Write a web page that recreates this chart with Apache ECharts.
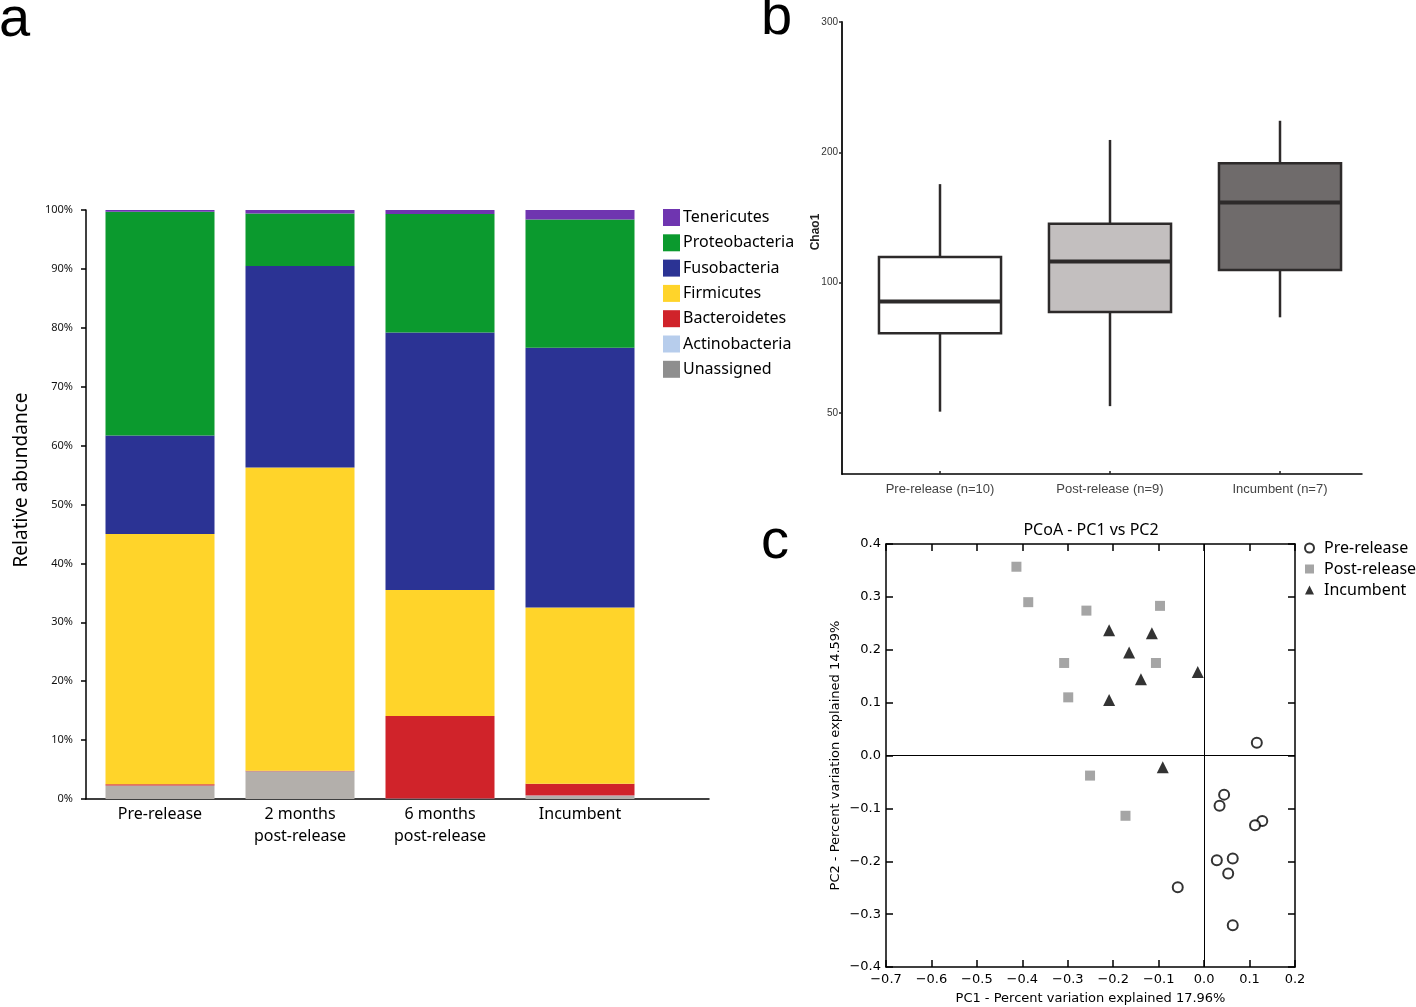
<!DOCTYPE html>
<html><head><meta charset="utf-8">
<script src="https://cdn.jsdelivr.net/npm/echarts@6/dist/echarts.min.js"></script>
<style>html,body{margin:0;padding:0;background:#fff}#main{width:1416px;height:1007px}</style>
</head><body><div id="main"></div>
<script>
// ---------- Panel a: relative abundance (%) ----------
const groups = ['Pre-release', '2 months\npost-release', '6 months\npost-release', 'Incumbent'];
const unassigned     = [2.3, 4.7, 0.0, 0.5];
const actinobacteria = [0.0, 0.0, 0.1, 0.1];
const bacteroidetes  = [0.2, 0.1, 14.0, 2.0];
const firmicutes     = [42.5, 51.5, 21.4, 29.9];
const fusobacteria   = [16.7, 34.2, 43.7, 44.1];
const proteobacteria = [38.0, 8.9, 20.1, 21.8];
const tenericutes    = [0.3, 0.6, 0.7, 1.6];

// ---------- Panel b: Chao1 ----------
const chaoGroups = ['Pre-release (n=10)', 'Post-release (n=9)', 'Incumbent (n=7)'];
const chaoLow    = [50.3, 51.8, 83.1];
const chaoQ1     = [76.3, 85.5, 106.9];
const chaoMedian = [90.4, 111.9, 153.0];
const chaoQ3     = [114.5, 136.7, 188.7];
const chaoHigh   = [168.8, 207.8, 220.6];
const chaoTicks  = [50, 100, 200, 300];

// ---------- Panel c: PCoA ----------
const preX  = [0.116, 0.044, 0.034, 0.128, 0.112, 0.063, 0.028, 0.053, -0.058, 0.063];
const preY  = [0.024, -0.074, -0.095, -0.124, -0.132, -0.195, -0.198, -0.223, -0.249, -0.321];
const postX = [-0.413, -0.387, -0.259, -0.097, -0.308, -0.106, -0.299, -0.251, -0.173];
const postY = [0.357, 0.290, 0.274, 0.283, 0.175, 0.175, 0.110, -0.038, -0.114];
const incX  = [-0.209, -0.115, -0.165, -0.014, -0.139, -0.209, -0.091];
const incY  = [0.237, 0.231, 0.195, 0.158, 0.144, 0.105, -0.022];

// axis of panel b: labelled ticks are evenly spaced; interpolate in log between them
function chaoToAxis(v) {
  const t = chaoTicks;
  let i = 0;
  while (i < t.length - 2 && v > t[i + 1]) i++;
  return i + Math.log(v / t[i]) / Math.log(t[i + 1] / t[i]);
}

const phylaSeries = [
  ['Unassigned', unassigned, '#b3afab'],
  ['Actinobacteria', actinobacteria, '#b7cdec'],
  ['Bacteroidetes', bacteroidetes, '#d0232a'],
  ['Firmicutes', firmicutes, '#ffd42a'],
  ['Fusobacteria', fusobacteria, '#2b3394'],
  ['Proteobacteria', proteobacteria, '#0b9a2e'],
  ['Tenericutes', tenericutes, '#6f35b0']
];
const boxFills = ['#ffffff', '#c3bfbf', '#6f6b6b'];

const FA = '"Noto Sans", sans-serif';
const FB = '"Liberation Sans", Arial, sans-serif';
const FC = '"DejaVu Sans", sans-serif';
const lineOnly = (gi) => ({
  gridIndex: gi, type: 'value', min: 0, max: 1,
  axisLine: { show: true, onZero: false, lineStyle: { color: '#000', width: 1.5 } },
  axisTick: { show: false }, axisLabel: { show: false }, splitLine: { show: false }
});
const fmtPc = v => Math.abs(v) < 1e-9 ? '0.0' : v.toFixed(1).replace('-', '\u2212');
const pcAxisCommon = {
  axisLine: { show: true, onZero: false, lineStyle: { color: '#000', width: 1.5 } },
  axisTick: { show: true, inside: true, length: 7, lineStyle: { color: '#000', width: 1.5 } },
  splitLine: { show: false }
};

const option = {
  animation: false,
  backgroundColor: '#fff',
  grid: [
    { left: 90, top: 210, width: 560, height: 589, outerBoundsMode: 'none' },
    { left: 86, top: 210, width: 623, height: 589, outerBoundsMode: 'none' },
    { left: 855, top: 22, width: 510, height: 452, outerBoundsMode: 'none' },
    { left: 842, top: 22, width: 520, height: 452, outerBoundsMode: 'none' },
    { left: 886, top: 544, width: 409, height: 423, outerBoundsMode: 'none' }
  ],
  xAxis: [
    { gridIndex: 0, type: 'category', data: groups,
      axisLine: { show: false }, axisTick: { show: false },
      axisLabel: { fontFamily: FA, fontSize: 16, color: '#000', margin: 4, lineHeight: 22, interval: 0 } },
    lineOnly(1),
    { gridIndex: 2, type: 'category', data: chaoGroups,
      axisLine: { show: false, onZero: false },
      axisTick: { show: true, inside: true, length: 3, alignWithLabel: true, lineStyle: { color: '#222', width: 1.5 } },
      axisLabel: { fontFamily: FB, fontSize: 13, color: '#444', margin: 9, interval: 0 } },
    lineOnly(3),
    Object.assign({ gridIndex: 4, type: 'value', min: -0.7, max: 0.2, interval: 0.1, position: 'bottom',
      name: 'PC1 - Percent variation explained 17.96%', nameLocation: 'middle', nameGap: 25,
      nameTextStyle: { fontFamily: FC, fontSize: 13, color: '#000' },
      axisLabel: { fontFamily: FC, fontSize: 13, color: '#000', margin: 6, formatter: fmtPc } }, pcAxisCommon),
    Object.assign({ gridIndex: 4, type: 'value', min: -0.7, max: 0.2, interval: 0.1, position: 'top',
      axisLabel: { show: false } }, pcAxisCommon)
  ],
  yAxis: [
    { gridIndex: 0, type: 'value', min: 0, max: 100, interval: 10, offset: 4,
      axisLine: { show: true, lineStyle: { color: '#000', width: 1.5 } },
      axisTick: { show: true, length: 5, lineStyle: { color: '#000', width: 1.5 } },
      axisLabel: { formatter: '{value}%', fontFamily: FA, fontSize: 11, color: '#111', margin: 13 },
      splitLine: { show: false } },
    { gridIndex: 1, type: 'value', show: false, min: 0, max: 1 },
    { gridIndex: 2, type: 'value', min: -0.47, max: 3, offset: 13,
      axisLine: { show: true, onZero: false, lineStyle: { color: '#222', width: 2 } },
      axisTick: { show: true, length: 3, customValues: chaoTicks.map(chaoToAxis), lineStyle: { color: '#222', width: 1.5 } },
      axisLabel: { customValues: chaoTicks.map(chaoToAxis), formatter: v => String(chaoTicks[Math.round(v)]),
        fontFamily: FB, fontSize: 10, color: '#333', margin: 4 },
      splitLine: { show: false } },
    { gridIndex: 3, type: 'value', show: false, min: 0, max: 1 },
    Object.assign({ gridIndex: 4, type: 'value', min: -0.4, max: 0.4, interval: 0.1, position: 'left',
      name: 'PC2 - Percent variation explained 14.59%', nameLocation: 'middle', nameGap: 44,
      nameTextStyle: { fontFamily: FC, fontSize: 13, color: '#000' },
      axisLabel: { fontFamily: FC, fontSize: 13, color: '#000', margin: 5, formatter: fmtPc } }, pcAxisCommon),
    Object.assign({ gridIndex: 4, type: 'value', min: -0.4, max: 0.4, interval: 0.1, position: 'right',
      axisLabel: { show: false } }, pcAxisCommon)
  ],
  legend: [
    { data: phylaSeries.map(s => s[0]).reverse().map(n => n === 'Unassigned' ? { name: n, itemStyle: { color: '#8e8e8e' } } : n),
      orient: 'vertical', left: 663, top: 209, padding: 0, itemWidth: 17, itemHeight: 17, itemGap: 8.3,
      icon: 'rect', textStyle: { fontFamily: FA, fontSize: 16, color: '#000', padding: [0, 0, 0, -2] },
      selectedMode: false },
    { data: ['Pre-release', 'Post-release', 'Incumbent'],
      orient: 'vertical', left: 1304, top: 540, padding: 0, itemWidth: 9, itemHeight: 9, itemGap: 5,
      textStyle: { fontFamily: FA, fontSize: 16, color: '#000', lineHeight: 16, padding: [0, 0, 0, 5] }, selectedMode: false }
  ],
  title: [
    { text: 'a', left: -6, top: -12, textStyle: { fontFamily: FB, fontSize: 56, fontWeight: 'normal', color: '#000' } },
    { text: 'b', left: 756, top: -14, textStyle: { fontFamily: FB, fontSize: 56, fontWeight: 'normal', color: '#000' } },
    { text: 'c', left: 756, top: 510, textStyle: { fontFamily: FB, fontSize: 56, fontWeight: 'normal', color: '#000' } }
  ],
  graphic: [
    { type: 'text', x: 22, y: 480, rotation: Math.PI / 2,
      style: { text: 'Relative abundance', font: '19px ' + FA, fill: '#000', align: 'center', verticalAlign: 'middle' } },
    { type: 'text', x: 816, y: 232, rotation: Math.PI / 2,
      style: { text: 'Chao1', font: 'bold 12px ' + FB, fill: '#222', align: 'center', verticalAlign: 'middle' } },
    { type: 'text', x: 1091, y: 530,
      style: { text: 'PCoA - PC1 vs PC2', font: '16px ' + FA, fill: '#000', align: 'center', verticalAlign: 'middle' } }
  ],
  series: [
    ...phylaSeries.map(([name, data, color]) => ({
      type: 'bar', name, stack: 'phyla', xAxisIndex: 0, yAxisIndex: 0,
      data, barWidth: 109, itemStyle: { color }
    })),
    { type: 'custom', name: 'Chao1', xAxisIndex: 2, yAxisIndex: 2,
      data: chaoGroups.map((g, i) => [i, chaoToAxis(chaoLow[i]), chaoToAxis(chaoQ1[i]),
        chaoToAxis(chaoMedian[i]), chaoToAxis(chaoQ3[i]), chaoToAxis(chaoHigh[i])]),
      encode: { x: 0, y: [1, 2, 3, 4, 5] },
      renderItem: function (params, api) {
        const i = api.value(0);
        const c = k => api.coord([i, api.value(k)]);
        const low = c(1), q1 = c(2), med = c(3), q3 = c(4), high = c(5);
        const w = api.size([1, 0])[0] * 0.718;
        const x = low[0];
        const ls = { stroke: '#2d2a2a', lineWidth: 2.5 };
        return { type: 'group', children: [
          { type: 'line', shape: { x1: x, y1: high[1], x2: x, y2: q3[1] }, style: ls },
          { type: 'line', shape: { x1: x, y1: q1[1], x2: x, y2: low[1] }, style: ls },
          { type: 'rect', shape: { x: x - w / 2, y: q3[1], width: w, height: q1[1] - q3[1] },
            style: { fill: boxFills[params.dataIndex], stroke: '#2d2a2a', lineWidth: 2.5 } },
          { type: 'line', shape: { x1: x - w / 2, y1: med[1], x2: x + w / 2, y2: med[1] },
            style: { stroke: '#2d2a2a', lineWidth: 4 } }
        ] };
      }
    },
    { type: 'scatter', name: 'Pre-release', xAxisIndex: 4, yAxisIndex: 4,
      data: preX.map((x, i) => [x, preY[i]]), symbol: 'circle', symbolSize: 10,
      itemStyle: { color: '#fff', borderColor: '#000', borderWidth: 2 }, z: 5,
      markLine: { silent: true, symbol: 'none', label: { show: false },
        lineStyle: { color: '#000', width: 1, type: 'solid' },
        data: [{ xAxis: 0 }, { yAxis: 0 }] } },
    { type: 'scatter', name: 'Post-release', xAxisIndex: 4, yAxisIndex: 4,
      data: postX.map((x, i) => [x, postY[i]]), symbol: 'rect', symbolSize: 10,
      itemStyle: { color: '#8e8e8e' } },
    { type: 'scatter', name: 'Incumbent', xAxisIndex: 4, yAxisIndex: 4,
      data: incX.map((x, i) => [x, incY[i]]), symbol: 'triangle', symbolSize: 12,
      itemStyle: { color: '#000' } }
  ]
};

const chart = echarts.init(document.getElementById('main'), null, { renderer: 'canvas' });
chart.setOption(option);
</script>
</body></html>
